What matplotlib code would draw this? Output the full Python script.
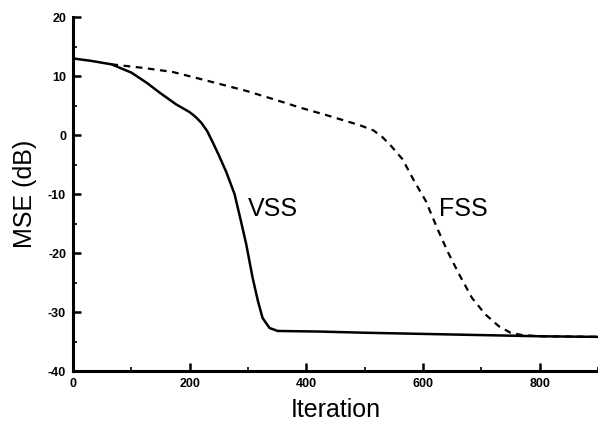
import matplotlib
matplotlib.use("Agg")
import matplotlib.pyplot as plt
from matplotlib.ticker import MultipleLocator

plt.rcParams['font.family'] = ['Liberation Sans', 'DejaVu Sans']
plt.rcParams['axes.unicode_minus'] = False

vss_x = [0, 30, 66, 100, 126, 150, 177, 200, 210, 220, 230, 240, 250, 263, 277, 288, 297, 308, 317, 325, 337, 351, 422, 500, 600, 700, 800, 900]
vss_y = [13.0, 12.6, 12.0, 10.6, 8.9, 7.1, 5.2, 3.9, 3.1, 2.1, 0.7, -1.3, -3.4, -6.3, -10.0, -14.6, -18.5, -24.2, -28.1, -31.0, -32.7, -33.2, -33.3, -33.5, -33.7, -33.9, -34.1, -34.2]

fss_x = [66, 120, 171, 223, 297, 350, 388, 434, 491, 515, 530, 545, 565, 585, 605, 624, 642, 662, 684, 707, 730, 750, 770, 800, 900]
fss_y = [12.0, 11.4, 10.7, 9.4, 7.5, 5.9, 4.7, 3.4, 1.7, 0.8, -0.3, -1.8, -4.1, -7.8, -11.2, -15.7, -19.7, -23.6, -27.6, -30.4, -32.4, -33.5, -33.9, -34.1, -34.2]

fig = plt.figure(figsize=(5.98, 4.28), dpi=100)
ax = fig.add_axes([0.122, 0.133, 0.878, 0.827])

ax.plot(vss_x, vss_y, color='black', lw=1.8, solid_joinstyle='round')
ax.plot(fss_x, fss_y, color='black', lw=1.6, linestyle=(0, (3, 2.5)))

ax.text(342, -12.5, 'VSS', fontsize=18, ha='center', va='center')
ax.text(670, -12.5, 'FSS', fontsize=18, ha='center', va='center')

ax.set_xlim(0, 900)
ax.set_ylim(-40, 20)
ax.xaxis.set_major_locator(MultipleLocator(200))
ax.xaxis.set_minor_locator(MultipleLocator(100))
ax.yaxis.set_major_locator(MultipleLocator(10))
ax.yaxis.set_minor_locator(MultipleLocator(5))

for s in ['top', 'right']:
    ax.spines[s].set_visible(False)
for s in ['left', 'bottom']:
    ax.spines[s].set_linewidth(2.2)

ax.tick_params(which='major', direction='in', length=6, width=1.8, labelsize=9, pad=5)
ax.tick_params(which='minor', direction='in', length=3, width=1.2)
for lab in ax.get_xticklabels() + ax.get_yticklabels():
    lab.set_fontweight('bold')

ax.set_xlabel('Iteration', fontsize=18, labelpad=6)
ax.set_ylabel('MSE (dB)', fontsize=18, labelpad=8)

fig.savefig('out.png', dpi=100)
